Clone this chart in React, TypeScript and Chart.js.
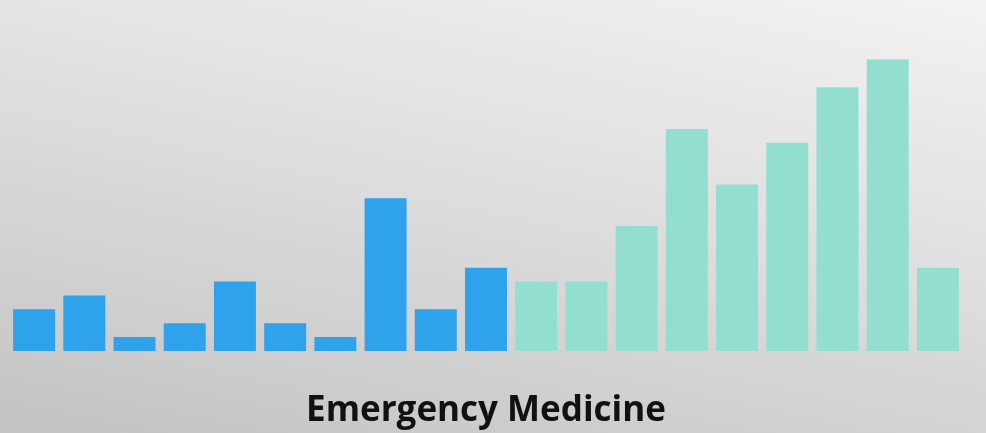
import React, { useEffect, useRef } from "react";
import { Chart, registerables } from "chart.js";

Chart.register(...registerables);

// Nineteen periods; the first ten are one cohort, the last nine another.
const categories = [
  "1", "2", "3", "4", "5", "6", "7", "8", "9", "10",
  "11", "12", "13", "14", "15", "16", "17", "18", "19",
];
const earlyCounts = [3, 4, 1, 2, 5, 2, 1, 11, 3, 6];
const lateCounts = [5, 5, 9, 16, 12, 15, 19, 21, 6];
const earlyColor = "#2fa2ec";
const lateColor = "#92dfcf";
const title = "Emergency Medicine";

const values = [...earlyCounts, ...lateCounts];
const colors = [
  ...earlyCounts.map(() => earlyColor),
  ...lateCounts.map(() => lateColor),
];

export default function App() {
  const canvasRef = useRef<HTMLCanvasElement | null>(null);

  useEffect(() => {
    const canvas = canvasRef.current;
    if (!canvas) return;
    const chart = new Chart(canvas, {
      type: "bar",
      data: {
        labels: categories,
        datasets: [
          {
            data: values,
            backgroundColor: colors,
            borderWidth: 0,
            categoryPercentage: 1,
            barPercentage: 0.836,
          },
        ],
      },
      options: {
        responsive: false,
        animation: false,
        layout: { padding: { left: 9, right: 23, top: 4, bottom: 82 } },
        plugins: {
          legend: { display: false },
          tooltip: { enabled: false },
          title: { display: false },
        },
        scales: {
          x: { display: false },
          y: { display: false, min: 0, max: 25 },
        },
      },
    });
    return () => chart.destroy();
  }, []);

  return (
    <div
      style={{
        position: "absolute",
        left: 0,
        top: 0,
        width: 986,
        height: 433,
        overflow: "hidden",
        background: "linear-gradient(192deg, #f3f3f3 0%, #dcdcdc 50%, #c3c3c3 100%)",
      }}
    >
      <canvas
        ref={canvasRef}
        width={986}
        height={433}
        style={{ position: "absolute", left: 0, top: 0, width: 986, height: 433 }}
      />
      <div
        style={{
          position: "absolute",
          left: 0,
          width: 972,
          top: 390,
          textAlign: "center",
          fontFamily: "'Open Sans', sans-serif",
          fontWeight: 700,
          fontSize: 35,
          lineHeight: 1,
          color: "#111111",
          whiteSpace: "nowrap",
        }}
      >
        {title}
      </div>
    </div>
  );
}
